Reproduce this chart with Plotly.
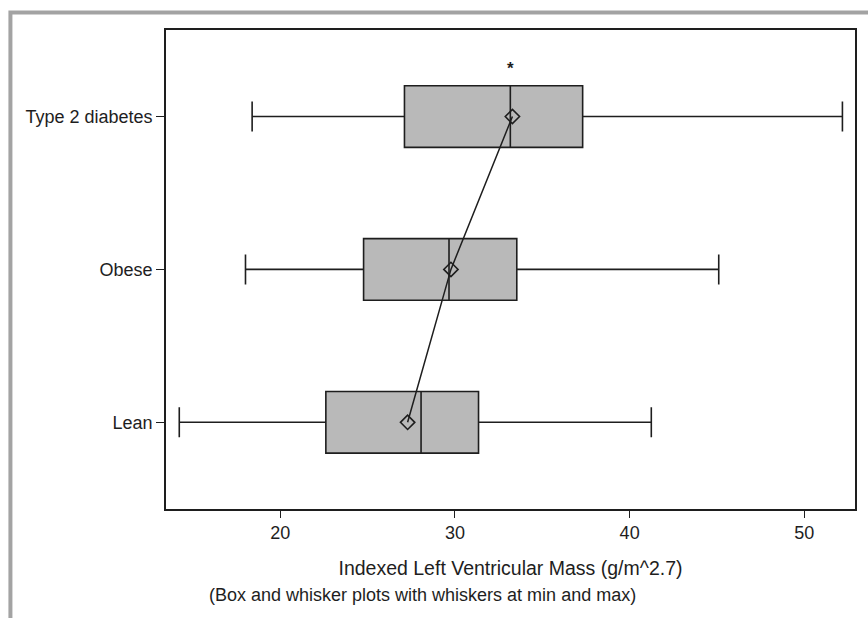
import plotly.graph_objects as go

# ---- data ----
categories = ["Lean", "Obese", "Type 2 diabetes"]
mins = [14.22, 18.01, 18.39]
q1s = [22.61, 24.77, 27.11]
medians = [28.06, 29.66, 33.17]
q3s = [31.35, 33.54, 37.31]
maxs = [41.24, 45.10, 52.18]
means = [27.29, 29.77, 33.29]
signif_category = ["Type 2 diabetes"]
signif_label = ["*"]
x_ticks = [20, 30, 40, 50]
x_title = "Indexed Left Ventricular Mass (g/m^2.7)"
note_text = "(Box and whisker plots with whiskers at min and max)"

FONT = "Liberation Sans, Arial, sans-serif"
INK = "#1e1e1e"

fig = go.Figure()

fig.add_trace(go.Box(
    y=categories,
    q1=q1s, median=medians, q3=q3s,
    lowerfence=mins, upperfence=maxs,
    orientation="h",
    fillcolor="#b9b9b9",
    line=dict(color=INK, width=1.6),
    width=0.403,
    whiskerwidth=0.487,
    boxpoints=False,
    showlegend=False,
    hoverinfo="skip",
))

fig.add_trace(go.Scatter(
    x=means, y=categories,
    mode="lines+markers",
    line=dict(color=INK, width=1.5),
    marker=dict(symbol="diamond-open", size=11, color=INK,
                line=dict(color=INK, width=1.6)),
    showlegend=False,
    hoverinfo="skip",
))

# significance star above the Type 2 diabetes box
for cat, lab in zip(signif_category, signif_label):
    i = categories.index(cat)
    fig.add_annotation(
        x=medians[i], y=i + 0.315, xref="x", yref="y",
        text="<b>" + lab + "</b>", showarrow=False,
        font=dict(family=FONT, size=17, color=INK),
        xanchor="center", yanchor="middle", yshift=0,
    )

fig.add_annotation(
    x=0.372, y=-0.1795, xref="paper", yref="paper",
    text=note_text, showarrow=False,
    font=dict(family=FONT, size=18, color=INK),
    xanchor="center", yanchor="middle",
)

# outer grey frame (top and left edges visible)
fig.add_shape(
    type="rect", xref="paper", yref="paper",
    x0=-0.2258, x1=1.5, y0=-0.6, y1=1.0365,
    line=dict(color="#a3a3a3", width=4),
    fillcolor="rgba(0,0,0,0)", layer="below",
)

fig.update_layout(
    width=868, height=618,
    margin=dict(l=166, r=11, t=30, b=109),
    paper_bgcolor="white", plot_bgcolor="white",
    font=dict(family=FONT, size=18, color=INK),
    xaxis=dict(
        range=[13.46, 52.9],
        tickvals=x_ticks,
        ticks="outside", ticklen=7, tickwidth=1.3, tickcolor=INK,
        showline=True, linecolor=INK, linewidth=1.6, mirror=True,
        showgrid=False, zeroline=False,
        tickfont=dict(family=FONT, size=18, color=INK),
        title=dict(text=x_title, standoff=19,
                   font=dict(family=FONT, size=19.5, color=INK)),
    ),
    yaxis=dict(
        type="category",
        categoryorder="array", categoryarray=categories,
        range=[-0.567, 2.566],
        ticks="outside", ticklen=8, tickwidth=1.3, tickcolor=INK,
        showline=True, linecolor=INK, linewidth=1.6, mirror=True,
        showgrid=False, zeroline=False,
        tickfont=dict(family=FONT, size=18, color=INK),
    ),
)

fig.write_html(
    "out.html",
    config={"displayModeBar": False},
    post_script="document.body.style.margin='0';document.body.style.overflow='hidden';",
)
